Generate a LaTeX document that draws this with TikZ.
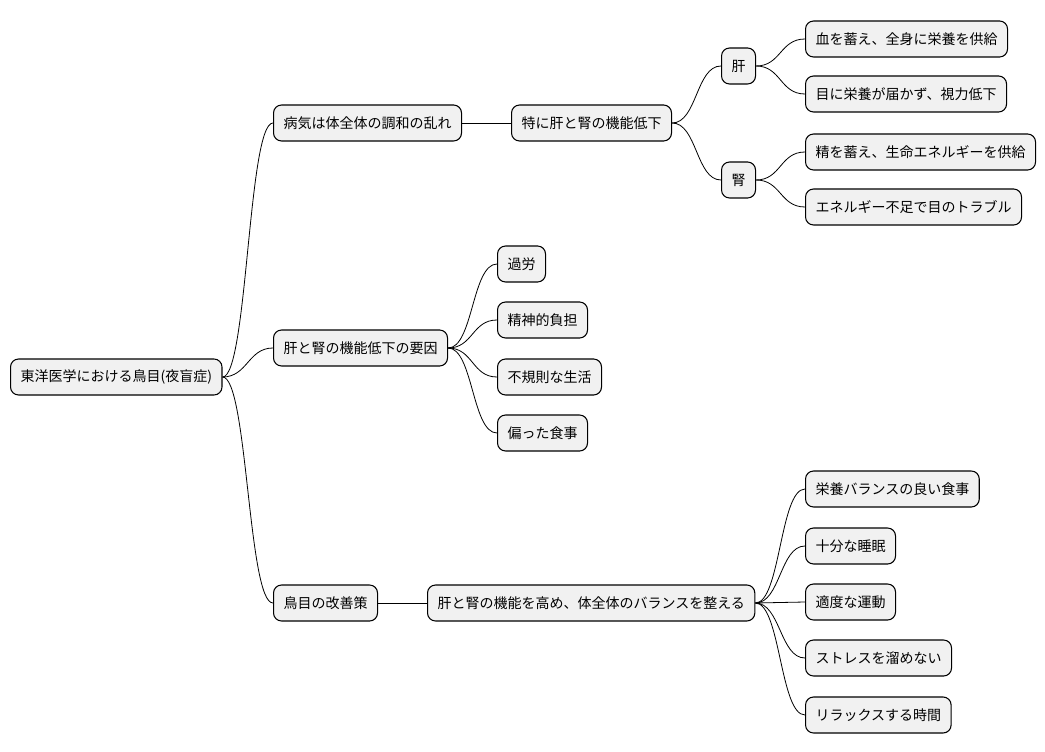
\documentclass[tikz,border=0pt]{standalone}
\usepackage{fontspec}
\setmainfont{Noto Sans CJK JP}
\begin{document}
\begin{tikzpicture}[x=0.75pt,y=-0.75pt,
 n/.style={draw=black,fill={rgb,255:red,241;green,241;blue,241},rounded corners=6pt,line width=0.8pt,
   minimum height=27pt,inner xsep=7.5pt,anchor=west,font=\fontsize{10.5}{12}\selectfont},
 c/.style={line width=0.6pt}]
\useasboundingbox (0,0) rectangle (1045,752);
\node[n] (r) at (10,377) {東洋医学における鳥目(夜盲症)};
\node[n] (a) at (273,123) {病気は体全体の調和の乱れ};
\node[n] (a1) at (511,123) {特に肝と腎の機能低下};
\node[n] (k) at (721,66) {肝};
\node[n] (k1) at (805,39) {血を蓄え、全身に栄養を供給};
\node[n] (k2) at (805,94) {目に栄養が届かず、視力低下};
\node[n] (j) at (721,180) {腎};
\node[n] (j1) at (805,152) {精を蓄え、生命エネルギーを供給};
\node[n] (j2) at (805,207) {エネルギー不足で目のトラブル};
\node[n] (b) at (273,348) {肝と腎の機能低下の要因};
\node[n] (b1) at (497,264) {過労};
\node[n] (b2) at (497,320) {精神的負担};
\node[n] (b3) at (497,377) {不規則な生活};
\node[n] (b4) at (497,433) {偏った食事};
\node[n] (c) at (273,603) {鳥目の改善策};
\node[n] (c0) at (427,603) {肝と腎の機能を高め、体全体のバランスを整える};
\node[n] (c1) at (805,489) {栄養バランスの良い食事};
\node[n] (c2) at (805,546) {十分な睡眠};
\node[n] (c3) at (805,602) {適度な運動};
\node[n] (c4) at (805,658) {ストレスを溜めない};
\node[n] (c5) at (805,715) {リラックスする時間};
\foreach \p/\q in {r/a,r/b,r/c,a/a1,a1/k,a1/j,k/k1,k/k2,j/j1,j/j2,b/b1,b/b2,b/b3,b/b4,c/c0,c0/c1,c0/c2,c0/c3,c0/c4,c0/c5}
  \draw[c] (\p.east) .. controls +(25,0) and +(-25,0) .. (\q.west);
\end{tikzpicture}
\end{document}
